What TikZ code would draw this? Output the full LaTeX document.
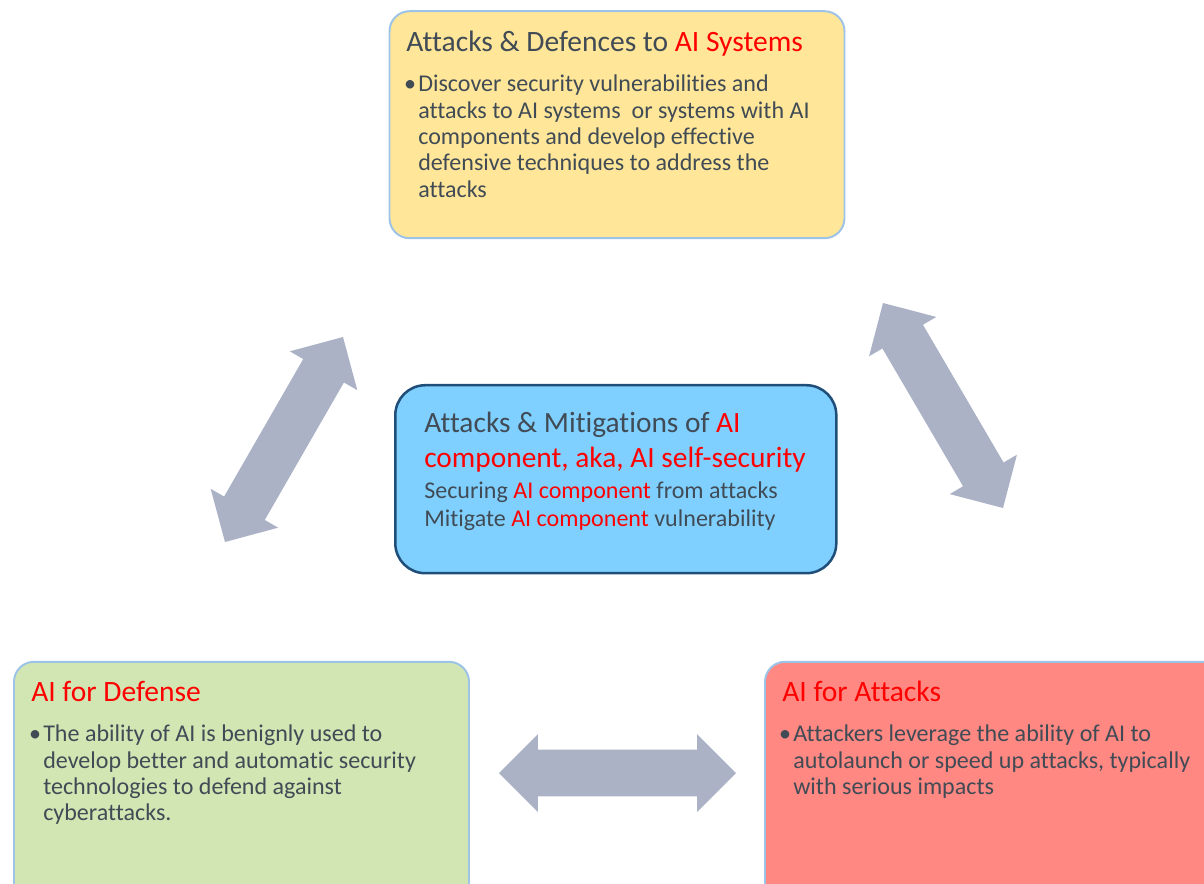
\documentclass[tikz,border=0pt]{standalone}
\usepackage{fontspec}
\setmainfont{Carlito}[Ligatures=NoCommon]
\usetikzlibrary{calc}

\definecolor{txtgray}{HTML}{404B55}
\definecolor{boxline}{HTML}{9DC3E6}
\definecolor{yellowfill}{HTML}{FFE699}
\definecolor{bluefill}{HTML}{80D0FF}
\definecolor{navyline}{HTML}{1F4E79}
\definecolor{greenfill}{HTML}{D2E6B4}
\definecolor{redfill}{HTML}{FF8882}
\definecolor{arrowgray}{HTML}{ABB2C6}

\def\pxl{0.025cm}
\def\arrhead{27.7pt}
\def\arrwing{27.7pt}
\def\arrshaft{16.7pt}
\newcommand\firstln{\rule{0pt}{16pt}}
\newcommand\bul{\llap{\textbullet\hspace{1.5pt}}}
\newcommand\fatarrow[2]{\fill[arrowgray] (#1)
  -- ($(#1)!\arrhead!(#2)!\arrwing!90:(#2)$) -- ($(#1)!\arrhead!(#2)!\arrshaft!90:(#2)$)
  -- ($(#2)!\arrhead!(#1)!\arrshaft!-90:(#1)$) -- ($(#2)!\arrhead!(#1)!\arrwing!-90:(#1)$)
  -- (#2)
  -- ($(#2)!\arrhead!(#1)!\arrwing!90:(#1)$) -- ($(#2)!\arrhead!(#1)!\arrshaft!90:(#1)$)
  -- ($(#1)!\arrhead!(#2)!\arrshaft!-90:(#2)$) -- ($(#1)!\arrhead!(#2)!\arrwing!-90:(#2)$)
  -- cycle;}

\tikzset{
  panel/.style={draw=boxline, line width=1.4pt, rounded corners=0.5cm, inner sep=0},
  title/.style={anchor=base west, inner sep=0, text=txtgray, font=\fontsize{21pt}{25pt}\selectfont},
  body/.style={anchor=north west, inner sep=0, align=left, text=txtgray, font=\fontsize{17.1pt}{18.7pt}\selectfont}
}

\begin{document}
\begin{tikzpicture}[x=\pxl, y=-\pxl]
	\clip (0,0) rectangle (1204,883);
	
	% boxes
	\node[panel, fill=yellowfill, minimum width=455*\pxl, minimum height=227*\pxl] (attdef) at (617,124.7) {};
	\node[panel, draw=navyline, line width=1.8pt, rounded corners=0.75cm, fill=bluefill,
	      minimum width=441*\pxl, minimum height=188*\pxl] (selfsec) at (615.8,479.2) {};
	\node[panel, fill=greenfill, minimum width=455*\pxl, minimum height=243*\pxl] (aidef) at (241.5,783.3) {};
	\node[panel, fill=redfill, minimum width=460*\pxl, minimum height=243*\pxl] (aiatt) at (995,783.3) {};
	
	% top
	\node[title] (attdeft) at (406,51) {Attacks \& Defences to \textcolor{red}{AI Systems}};
	\node[body] (attdefb) at (418,69.2) {\firstln\bul Discover security vulnerabilities and\\
		attacks to AI systems\ \ or systems with AI\\
		components and develop effective\\
		defensive techniques to address the\\
		attacks};
	
	% centre
	\node[body, font=\fontsize{20.9pt}{24.5pt}\selectfont] (selfsect) at (424,409.8)
		{\firstln Attacks \& Mitigations of \textcolor{red}{AI}\\
		\textcolor{red}{component, aka, AI self-security}};
	\node[body, font=\fontsize{17.1pt}{20.2pt}\selectfont] (selfsecb) at (424,475.8)
		{\firstln Securing \textcolor{red}{AI component} from attacks\\
		Mitigate \textcolor{red}{AI component} vulnerability};
	
	% bottom left
	\node[title, text=red] (aideft) at (31,701) {AI for Defense};
	\node[body] (aidefb) at (43,719.2) {\firstln\bul The ability of AI is benignly used to\\
		develop better and automatic security\\
		technologies to defend against\\
		cyberattacks.};
	
	% bottom right
	\node[title, text=red] (aiattt) at (782,701) {AI for Attacks};
	\node[body] (aiattb) at (793,719.2) {\firstln\bul Attackers leverage the ability of AI to\\
		autolaunch or speed up attacks, typically\\
		with serious impacts};
	
	% arrows
	\coordinate (lftlow) at (225,542);
	\coordinate (lfthigh) at (343,337);
	\coordinate (rgthigh) at (883,303);
	\coordinate (rgtlow) at (1003,508);
	\coordinate (botleft) at (499,773);
	\coordinate (botright) at (736,773);
	\fatarrow{lftlow}{lfthigh}
	\fatarrow{rgthigh}{rgtlow}
	\fatarrow{botleft}{botright}
\end{tikzpicture}
\end{document}
